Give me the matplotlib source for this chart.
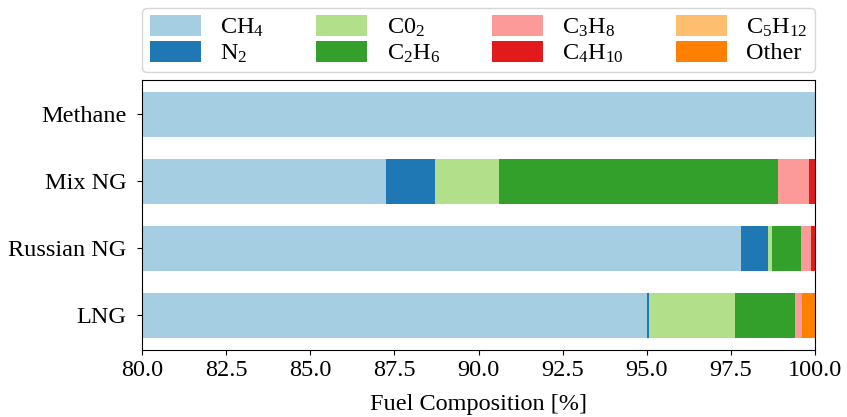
import matplotlib.pyplot as plt
import numpy as np

# fuels (bottom to top) and composition in %
fuels = ["LNG", "Russian NG", "Mix NG", "Methane"]
species = [r"CH$_4$", r"N$_2$", r"C0$_2$", r"C$_2$H$_6$",
           r"C$_3$H$_8$", r"C$_4$H$_{10}$", r"C$_5$H$_{12}$", "Other"]

ch4 = [95.00, 97.79, 87.26, 100.0]
n2 = [0.08, 0.81, 1.43, 0.0]
co2 = [2.54, 0.12, 1.93, 0.0]
c2h6 = [1.78, 0.87, 8.28, 0.0]
c3h8 = [0.21, 0.29, 0.93, 0.0]
c4h10 = [0.0, 0.12, 0.17, 0.0]
c5h12 = [0.0, 0.0, 0.0, 0.0]
other = [0.39, 0.0, 0.0, 0.0]

plt.rcParams["font.family"] = ["Liberation Serif", "DejaVu Serif"]
plt.rcParams["mathtext.fontset"] = "custom"
plt.rcParams["mathtext.rm"] = "Liberation Serif"
plt.rcParams["mathtext.default"] = "regular"
plt.rcParams["font.size"] = 17.5

fig, ax = plt.subplots(figsize=(8.47, 4.17), dpi=100)
fig.subplots_adjust(left=0.168, right=0.962, top=0.808, bottom=0.161)

colors = plt.cm.Paired.colors
data = [ch4, n2, co2, c2h6, c3h8, c4h10, c5h12, other]
left = np.zeros(len(fuels))
for i, (vals, lab) in enumerate(zip(data, species)):
    ax.barh(fuels, vals, left=left, height=0.66, color=colors[i], label=lab)
    left += np.array(vals)

ax.set_xlim(80, 100)
ax.set_xticks(np.arange(80, 100.1, 2.5))
ax.set_xticklabels([f"{v:.1f}" for v in np.arange(80, 100.1, 2.5)])
ax.set_xlabel("Fuel Composition [%]", labelpad=10)
ax.tick_params(axis="y", pad=8)

ax.legend(loc="lower left", bbox_to_anchor=(0, 1.03, 1, 0.2), mode="expand",
          ncol=4, borderaxespad=0, handlelength=2.1, handleheight=0.95,
          labelspacing=0.05, borderpad=0.3, columnspacing=1.0)

fig.savefig("out.png", dpi=100)
